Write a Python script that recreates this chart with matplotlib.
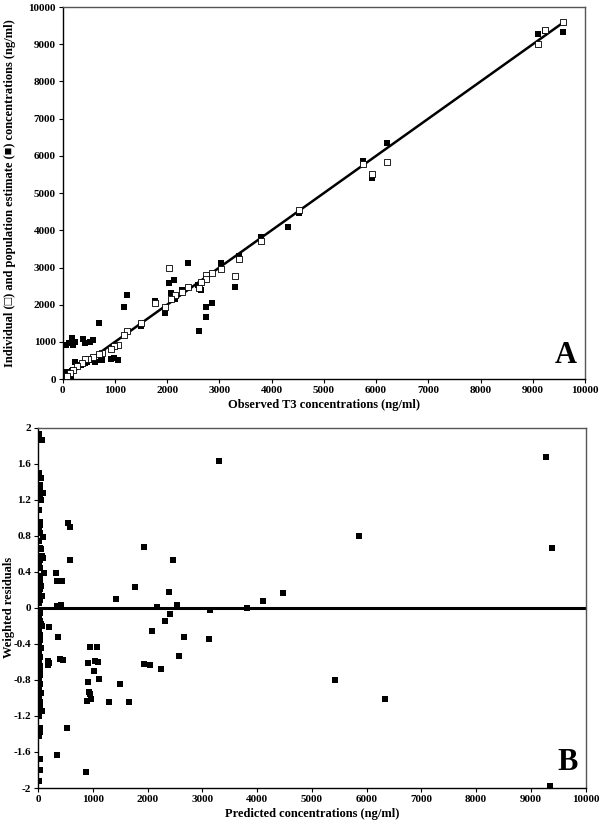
import matplotlib
matplotlib.use("Agg")
import matplotlib.pyplot as plt
import numpy as np

# ---------------- Panel A data ----------------
# population estimate (filled squares): observed, predicted
pop_obs = [4522, 4318, 3803, 3369, 3299, 3032, 2395, 2134, 2038, 2083, 2153, 2287,
           2599, 2656, 2752, 2860, 2752, 2605, 1771, 1955, 1503, 1223, 1172, 694,
           745, 924, 987, 1064,
           69, 121, 159, 178, 197, 229, 389, 421, 517, 580,
           230, 357, 421, 472, 549, 613, 740,
           20, 40, 60, 80, 100, 130, 150, 180, 200, 30, 70, 110, 160,
           9100, 9227, 9584, 5747, 5925, 6213]
pop_pred = [4462, 4077, 3808, 3315, 2473, 3127, 3118, 2670, 2581, 2312, 2159, 2401,
            2536, 2384, 1935, 2052, 1658, 1299, 2088, 1774, 1416, 2249, 1935, 1505,
            520, 547, 565, 520,
            914, 960, 978, 1094, 914, 1004, 1067, 960, 1004, 1049,
            466, 376, 421, 466, 511, 466, 511,
            50, 120, 30, 180, 90, 60, 150, 210, 250, 180, 100, 200, 80,
            9274, 9364, 9337, 5851, 5412, 6335]

# individual estimate (open squares): observed, predicted
ind_obs = [4522, 3803, 3369, 3299, 3032, 2860, 2752, 2752, 2656, 2605, 2395, 2287,
           2153, 2083, 2038, 1955, 1771, 1503, 1223, 1172, 1064, 987, 924, 745,
           694, 586, 490, 427, 363, 268, 204, 140, 76,
           9100, 9227, 9584, 5747, 5925, 6213]
ind_pred = [4552, 3719, 3235, 2760, 2966, 2849, 2787, 2688, 2599, 2446, 2473, 2330,
            2267, 2159, 2984, 1935, 2043, 1505, 1281, 1192, 923, 878, 806, 699,
            681, 591, 547, 538, 430, 341, 251, 161, 90,
            8996, 9382, 9606, 5779, 5519, 5842]

line_x = [0, 9580]
line_y = [0, 9580]

# ---------------- Panel B data ----------------
res_pred = [3305, 61, 537, 585, 573, 1927, 2470, 329, 335, 433, 1774, 1415, 2390,
            348, 415, 2171, 2543, 3134, 3817, 4098, 4463, 189, 366, 2085, 2317,
            2415, 2665, 2579, 3122, 939, 1067, 402, 445, 183, 183, 201, 915, 1037,
            1085, 1024, 1939, 2049, 2250, 1104, 909, 1494, 933, 945, 963, 884,
            1293, 1659, 518, 348, 872,
            9273, 5861, 9388, 5412, 6339, 9345,
            10, 15, 20, 50, 25, 30, 80, 40, 55, 15, 30, 40, 20, 35, 80, 15, 25, 45,
            60, 90, 30, 20, 40, 100, 15, 35, 25, 45, 30, 20, 65, 40, 15, 10, 30, 20,
            40, 55, 70, 10, 35, 25, 15, 45, 20, 35, 10, 30, 25, 40, 15, 30, 20, 45,
            15, 30, 25, 60, 10, 40, 30, 20, 35, 25, 10]
res_wres = [1.637, 1.87, 0.948, 0.9, 0.533, 0.681, 0.533, 0.385, 0.296, 0.304, 0.233,
            0.1, 0.174, 0.022, 0.037, 0.015, 0.037, -0.022, 0.0, 0.081, 0.163,
            -0.215, -0.322, -0.256, -0.148, -0.07, -0.322, -0.533, -0.348, -0.43,
            -0.433, -0.563, -0.574, -0.59, -0.637, -0.611, -0.607, -0.589, -0.6,
            -0.704, -0.626, -0.633, -0.678, -0.789, -0.822, -0.841, -0.937, -0.952,
            -1.015, -1.037, -1.041, -1.048, -1.333, -1.633, -1.826,
            1.681, 0.796, 0.663, -0.796, -1.007, -1.978,
            1.93, 1.50, 1.47, 1.44, 1.36, 1.32, 1.28, 1.25, 1.20, 1.09, 0.96, 0.92,
            0.88, 0.83, 0.79, 0.74, 0.67, 0.65, 0.58, 0.56, 0.53, 0.47, 0.44, 0.39,
            0.36, 0.32, 0.28, 0.24, 0.21, 0.17, 0.13, 0.09, 0.05, -0.02, -0.06,
            -0.10, -0.14, -0.18, -0.20, -0.25, -0.30, -0.36, -0.40, -0.45, -0.50,
            -0.55, -0.60, -0.65, -0.70, -0.75, -0.80, -0.85, -0.90, -0.95, -1.00,
            -1.04, -1.08, -1.15, -1.20, -1.33, -1.38, -1.42, -1.68, -1.80, -1.92]

xticks = [0, 1000, 2000, 3000, 4000, 5000, 6000, 7000, 8000, 9000, 10000]
yticks_a = [0, 1000, 2000, 3000, 4000, 5000, 6000, 7000, 8000, 9000, 10000]
yticks_b = [-2, -1.6, -1.2, -0.8, -0.4, 0, 0.4, 0.8, 1.2, 1.6, 2]

SERIF = ['Liberation Serif', 'DejaVu Serif']
plt.rcParams['font.family'] = SERIF
plt.rcParams['font.weight'] = 'bold'

fig = plt.figure(figsize=(6.05, 8.26), dpi=100)

# ---------- Panel A ----------
axA = fig.add_axes([0.1036, 0.541, 0.8634, 0.4505])
axA.plot(line_x, line_y, color='black', lw=1.8, zorder=2)
axA.scatter(pop_obs, pop_pred, marker='s', s=18, color='black', linewidths=0, zorder=3)
axA.scatter(ind_obs, ind_pred, marker='s', s=16, facecolors='white',
            edgecolors='black', linewidths=0.6, zorder=4)
axA.set_xlim(0, 10000)
axA.set_ylim(0, 10000)
axA.set_xticks(xticks)
axA.set_yticks(yticks_a)
axA.set_xticklabels([str(v) for v in xticks], fontweight='bold', fontsize=8)
axA.set_yticklabels([str(v) for v in yticks_a], fontweight='bold', fontsize=8)
axA.set_xlabel('Observed T3 concentrations (ng/ml)', fontsize=9, fontweight='bold', labelpad=3)
axA.set_ylabel('Individual (\u25a1) and population estimate (\u25a0) concentrations (ng/ml)',
               fontsize=9, fontweight='bold', family=SERIF, va='center')
axA.yaxis.set_label_coords(-0.101, 0.5)
axA.text(0.985, 0.025, 'A', transform=axA.transAxes, ha='right', va='bottom',
         fontsize=22, fontweight='bold')

# ---------- Panel B ----------
axB = fig.add_axes([0.0633, 0.046, 0.9047, 0.436])
axB.axhline(0, color='black', lw=2.2, zorder=2)
axB.scatter(res_pred, res_wres, marker='s', s=18, color='black', linewidths=0, zorder=3)
axB.set_xlim(0, 10000)
axB.set_ylim(-2, 2)
axB.set_xticks(xticks)
axB.set_yticks(yticks_b)
axB.set_xticklabels([str(v) for v in xticks], fontweight='bold', fontsize=8)
axB.set_yticklabels(['%g' % v for v in yticks_b], fontweight='bold', fontsize=8)
axB.set_xlabel('Predicted concentrations (ng/ml)', fontsize=9, fontweight='bold', labelpad=3)
axB.set_ylabel('Weighted residuals', fontsize=9, fontweight='bold', va='center')
axB.yaxis.set_label_coords(-0.054, 0.5)
axB.text(0.985, 0.03, 'B', transform=axB.transAxes, ha='right', va='bottom',
         fontsize=22, fontweight='bold')

for ax in (axA, axB):
    ax.tick_params(direction='out', length=3, width=0.8, pad=2)
    for side in ('top', 'right'):
        ax.spines[side].set_color('#555555')
        ax.spines[side].set_linewidth(1.0)
    for side in ('left', 'bottom'):
        ax.spines[side].set_color('black')
        ax.spines[side].set_linewidth(1.0)

fig.savefig('out.png', dpi=100)
